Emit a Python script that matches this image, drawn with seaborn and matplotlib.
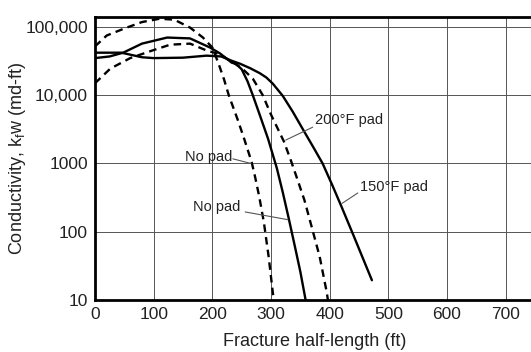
import numpy as np
import pandas as pd
import matplotlib
matplotlib.use("Agg")
import matplotlib.pyplot as plt
import seaborn as sns

nopad_dash_x = [0, 20, 50, 80, 110, 135, 162, 184, 200, 210, 220, 228, 244, 255, 267, 273, 280, 288, 296, 303, 305]
nopad_dash_y = [52000, 75000, 95000, 118000, 132000, 128000, 98000, 70000, 50000, 30000, 17000, 10000,
                4200, 2200, 1050, 630, 325, 135, 43, 13, 10]

pad200_x = [0, 26, 60, 99, 128, 162, 191, 212, 233, 250, 269, 286, 300, 322, 334, 344, 357, 368, 383, 395, 397]
pad200_y = [15000, 24500, 35000, 45600, 55000, 57000, 45000, 40000, 31000, 25000, 17500, 10000, 5200,
            2100, 1100, 620, 290, 130, 43, 13, 10]

nopad_solid_x = [0, 25, 48, 80, 123, 162, 196, 213, 233, 240, 250, 260, 269, 281, 295, 310, 320, 330, 340, 350, 359]
nopad_solid_y = [35000, 37000, 42000, 57000, 70000, 68000, 50000, 41000, 30000, 29000, 24000, 16000,
                 10000, 5100, 2300, 850, 380, 160, 65, 26, 10]

pad150_x = [0, 45, 80, 100, 150, 190, 215, 233, 247, 264, 281, 292, 303, 320, 337, 355, 372, 388, 405, 420, 440, 472]
pad150_y = [42000, 42000, 36000, 35000, 35500, 38000, 37000, 32000, 29000, 25000, 21000, 18200, 14800,
            9800, 5750, 3100, 1740, 1000, 470, 235, 91, 19.5]

curves = [("No pad dashed", nopad_dash_x, nopad_dash_y),
          ("200F pad", pad200_x, pad200_y),
          ("No pad solid", nopad_solid_x, nopad_solid_y),
          ("150F pad", pad150_x, pad150_y)]
df = pd.concat([pd.DataFrame({"x": x, "y": y, "curve": name}) for name, x, y in curves],
               ignore_index=True)

sns.set_style("white")
plt.rcParams["font.family"] = ["Liberation Sans", "DejaVu Sans"]
plt.rcParams["mathtext.fontset"] = "custom"
plt.rcParams["mathtext.rm"] = "Liberation Sans"
plt.rcParams["mathtext.it"] = "Liberation Sans"
plt.rcParams["mathtext.default"] = "regular"

fig = plt.figure(figsize=(5.31, 3.52), dpi=100)
ax = fig.add_axes([95 / 531, 52 / 352, 440 / 531, 283 / 352])

dash_styles = {"No pad dashed": (3.2, 2.2), "200F pad": (3.2, 2.2),
               "No pad solid": "", "150F pad": ""}
sns.lineplot(data=df, x="x", y="y", style="curve", dashes=dash_styles, color="black",
             linewidth=1.7, legend=False, ax=ax, estimator=None)

ax.set_yscale("log")
ax.set_xlim(0, 750)
ax.set_ylim(10, 1.4e5)
ax.set_xticks(range(0, 800, 100))
ax.set_xticklabels([str(v) for v in range(0, 800, 100)])
ax.set_yticks([10, 100, 1000, 10000, 100000])
ax.set_yticklabels(["10", "100", "1000", "10,000", "100,000"])
ax.minorticks_off()
ax.tick_params(length=0, labelsize=12.5, colors="#222222", pad=5)
ax.grid(True, color="#555555", linewidth=0.7)

for side in ["left", "bottom", "top"]:
    ax.spines[side].set_linewidth(2.0)
    ax.spines[side].set_color("black")
ax.spines["right"].set_visible(False)

ax.set_xlabel("Fracture half-length (ft)", fontsize=13, color="#222222", labelpad=8)
ax.set_ylabel(r"Conductivity, k$_{f}$w (md-ft)", fontsize=13, color="#222222")
ax.yaxis.set_label_coords(-0.152, 0.5)

# labels with leader lines
notes = [("No pad", 153, 1230, (235, 1170), (266, 1000)),
         ("No pad", 167, 230, (256, 195), (329, 150)),
         ("200°F pad", 375, 4300, (371, 3400), (325, 2200)),
         ("150°F pad", 451, 460, (448, 370), (421, 260))]
for txt, tx, ty, p0, p1 in notes:
    ax.text(tx, ty, txt, fontsize=10.5, color="#222222", ha="left", va="center")
    ax.plot([p0[0], p1[0]], [p0[1], p1[1]], color="#555555", linewidth=0.8)

fig.savefig("out.png", dpi=100)
